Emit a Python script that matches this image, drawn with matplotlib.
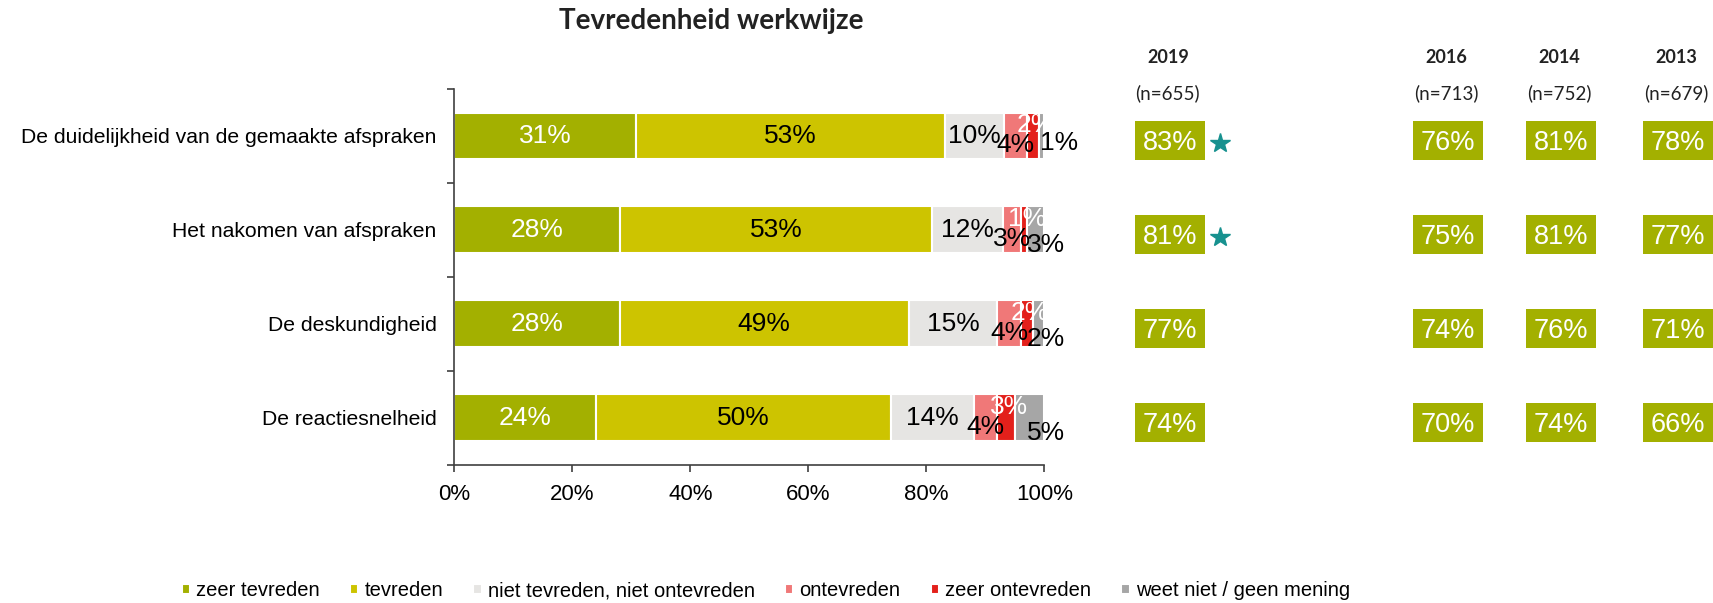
import matplotlib.pyplot as plt
import matplotlib.transforms as mtransforms
import numpy as np

# data
categorieen = ['De duidelijkheid van de gemaakte afspraken', 'Het nakomen van afspraken',
               'De deskundigheid', 'De reactiesnelheid']
reeksen = ['zeer tevreden', 'tevreden', 'niet tevreden, niet ontevreden',
           'ontevreden', 'zeer ontevreden', 'weet niet / geen mening']
waarden = np.array([
    [31, 53, 10, 4, 2, 1],
    [28, 53, 12, 3, 1, 3],
    [28, 49, 15, 4, 2, 2],
    [24, 50, 14, 4, 3, 5],
])
kleuren = ['#a3b000', '#cdc400', '#e6e5e3', '#f07878', '#e3201b', '#a6a6a6']
tekstkleur = ['white', 'black', 'black', 'black', 'white', 'black']

jaren = ['2019', '2016', '2014', '2013']
n_waarden = ['(n=655)', '(n=713)', '(n=752)', '(n=679)']
tevreden_totaal = [
    [83, 81, 77, 74],   # 2019
    [76, 75, 74, 70],   # 2016
    [81, 81, 76, 74],   # 2014
    [78, 77, 71, 66],   # 2013
]
significant = [True, True, False, False]

plt.rcParams['font.family'] = ['Liberation Sans', 'DejaVu Sans']

fig = plt.figure(figsize=(17.13, 6.03), dpi=100)
ax = fig.add_axes([0.2653, 0.2289, 0.3444, 0.6235])

y = np.arange(len(categorieen))
breed = waarden / waarden.sum(axis=1, keepdims=True) * 100
links = np.zeros(len(categorieen))
for j, naam in enumerate(reeksen):
    ax.barh(y, breed[:, j], left=links, height=0.5, color=kleuren[j],
            edgecolor='white', linewidth=1.5, label=naam)
    for i in range(len(categorieen)):
        xm = links[i] + breed[i, j] / 2
        ym = y[i]
        if j == 3:
            ym += 0.10
        elif j == 4:
            xm += 0.5
            ym -= 0.12
        elif j == 5:
            xm = 100.3 if i > 0 else 102.5
            ym += 0.16 if i > 0 else 0.07
        ax.text(xm, ym, '%d%%' % waarden[i, j], ha='center', va='center',
                fontsize=19, color=tekstkleur[j])
    links += breed[:, j]

ax.set_xlim(0, 100)
ax.set_ylim(3.5, -0.5)
ax.set_xticks(np.arange(0, 101, 20))
ax.set_xticklabels(['%d%%' % v for v in range(0, 101, 20)], fontsize=16)
ax.set_yticks(y)
ax.set_yticklabels(categorieen, fontsize=15.2)
ax.set_yticks(np.arange(-0.5, 3.6, 1), minor=True)
ax.tick_params(axis='y', which='major', length=0, pad=13)
ax.tick_params(axis='y', which='minor', length=5, width=1.2, color='#404040')
ax.tick_params(axis='x', length=5, width=1.2, color='#404040', pad=9)
for s in ['top', 'right']:
    ax.spines[s].set_visible(False)
for s in ['left', 'bottom']:
    ax.spines[s].set_color('#404040')
    ax.spines[s].set_linewidth(1.2)

fig.text(0.415, 0.965, 'Tevredenheid werkwijze', ha='center', va='center',
         fontsize=20, fontweight='bold', family='Lato', color='#222222')

# rechter kolommen met trend
ax2 = fig.add_axes([0.6421, 0.2289, 0.3579, 0.6235], sharey=ax)
ax2.set_xlim(1100, 1713)
ax2.axis('off')
kolom_x = [1170, 1448, 1561, 1678]
trans = mtransforms.blended_transform_factory(ax2.transData, fig.transFigure)
for k in range(len(jaren)):
    ax2.barh(y + 0.05, 70, left=kolom_x[k] - 35, height=0.42, color='#a3b000')
    for i in range(len(categorieen)):
        ax2.text(kolom_x[k], y[i] + 0.07, '%d%%' % tevreden_totaal[k][i], ha='center',
                 va='center', fontsize=19.5, color='white')
    ax2.text(kolom_x[k] - 2, 0.904, jaren[k], transform=trans, ha='center', va='center',
             fontsize=13, fontweight='bold', family='Lato', color='#222222')
    ax2.text(kolom_x[k] - 2, 0.846, n_waarden[k], transform=trans, ha='center', va='center',
             fontsize=13.5, family='Lato', color='#222222')
for i in range(len(categorieen)):
    if significant[i]:
        ax2.plot(1220, y[i] + 0.07, marker='*', markersize=15, color='#17918f', clip_on=False)

fig.legend(loc='center', bbox_to_anchor=(0.447, 0.02), ncol=6, frameon=False,
           fontsize=14.5, handlelength=0.42, handleheight=0.42, handletextpad=0.3,
           columnspacing=1.5)

fig.savefig('out.png', dpi=100)
